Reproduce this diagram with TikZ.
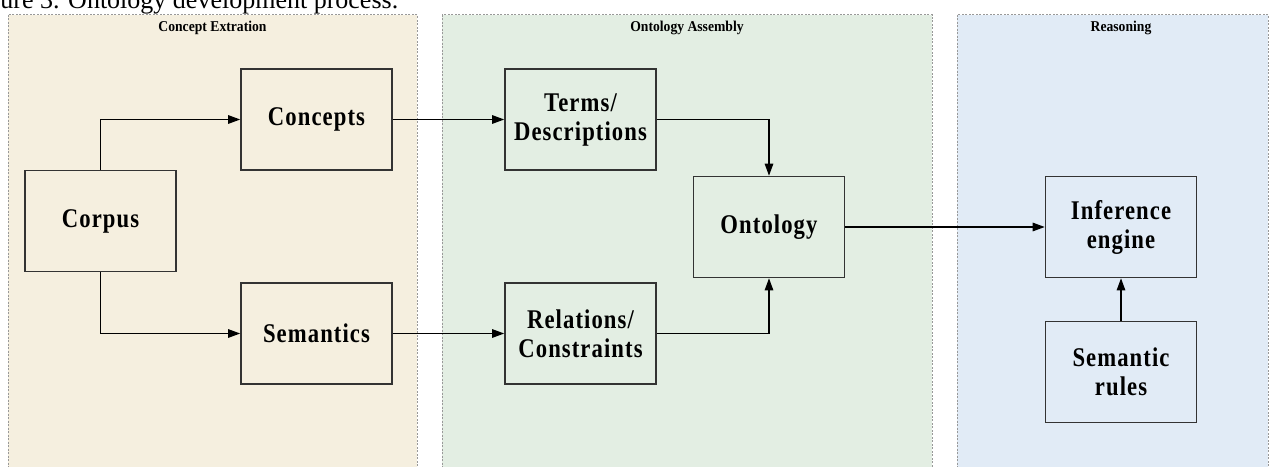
\documentclass[tikz,border=0pt]{standalone}
\usepackage{fontspec}
\setmainfont{Liberation Serif}
\newfontfamily\boxfont[FakeStretch=0.84,LetterSpace=4]{Liberation Serif}
\newfontfamily\ttlfont[FakeStretch=0.91]{Liberation Serif}
\usetikzlibrary{arrows.meta}
\definecolor{beigebg}{RGB}{245,239,223}
\definecolor{greenbg}{RGB}{227,238,227}
\definecolor{bluebg}{RGB}{225,235,246}
\begin{document}
\begin{tikzpicture}[x=1pt,y=-1pt,
  panel/.style={draw=black!40, dash pattern=on 2pt off 1.5pt, line width=0.6pt},
  box/.style={draw=black!80, line width=1.6pt, minimum width=151pt, minimum height=101pt, inner sep=0pt, align=center, font=\boxfont\fontsize{27}{29}\selectfont\bfseries},
  ttl/.style={font=\ttlfont\fontsize{15}{17}\selectfont\bfseries, anchor=base, inner sep=0pt},
  arr/.style={line width=1.2pt, -{Triangle[length=12pt,width=8.5pt]}}]
\useasboundingbox (0,0) rectangle (1272,466);
\clip (0,0) rectangle (1272,466);
% panels
\fill[beigebg] (8,14.5) rectangle (417,475);
\draw[panel] (8,14.5) rectangle (417,475);
\fill[greenbg] (442,14.5) rectangle (932,475);
\draw[panel] (442,14.5) rectangle (932,475);
\fill[bluebg] (957,14.5) rectangle (1268,475);
\draw[panel] (957,14.5) rectangle (1268,475);
% caption (cut off in the reference)
\node[anchor=base west, font=\fontsize{26}{30}\selectfont, inner sep=0pt] (cap) at (-34.5,8) {Figure 3. Ontology development process.};
% titles
\node[ttl] (t1) at (212.5,31.5) {Concept Extration};
\node[ttl] (t2) at (687,31.5) {Ontology Assembly};
\node[ttl] (t3) at (1121,31.5) {Reasoning};
% boxes
\node[box] (corpus) at (100.5,221) {Corpus};
\node[box] (concepts) at (316.5,119.5) {Concepts};
\node[box] (semantics) at (316.5,333.5) {Semantics};
\node[box] (terms) at (580.5,119.5) {Terms/\\Descriptions};
\node[box] (rel) at (580.5,333.5) {Relations/\\Constraints};
\node[box] (onto) at (769,227) {Ontology};
\node[box] (inf) at (1121,227) {Inference\\engine};
\node[box] (rules) at (1121,372) {Semantic\\rules};
% connectors
\draw[arr] (corpus.north) |- (concepts.west);
\draw[arr] (corpus.south) |- (semantics.west);
\draw[arr] (concepts) -- (terms);
\draw[arr] (semantics) -- (rel);
\draw[arr] (terms.east) -| (onto.north);
\draw[arr] (rel.east) -| (onto.south);
\draw[arr] (onto) -- (inf);
\draw[arr] (rules) -- (inf);
\end{tikzpicture}
\end{document}
